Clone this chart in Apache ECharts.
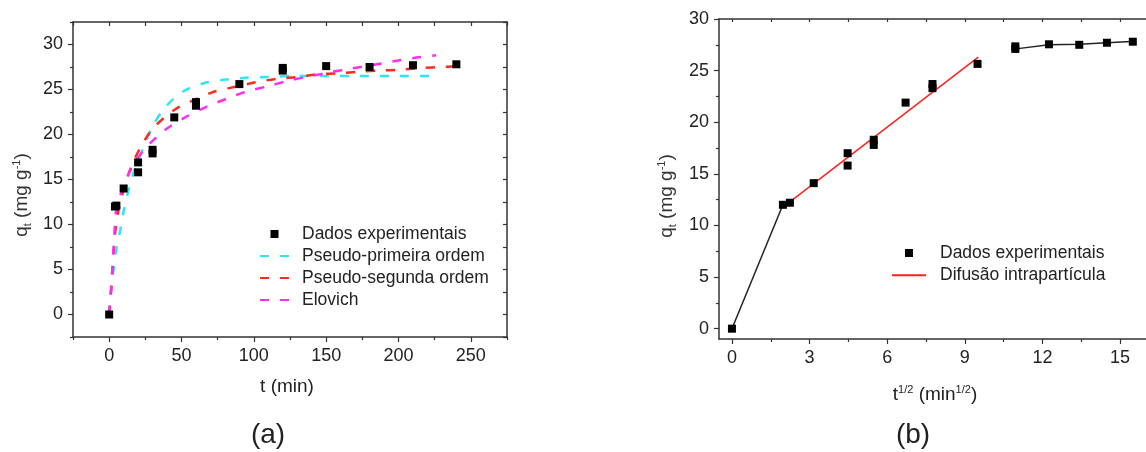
<!DOCTYPE html>
<html>
<head>
<meta charset="utf-8">
<script src="https://cdn.jsdelivr.net/npm/echarts@6/dist/echarts.min.js"></script>
<style>
html,body{margin:0;padding:0;background:#fff;}
#main{width:1146px;height:452px;}
</style>
</head>
<body>
<div id="main"></div>
<script>
// (a) kinetics: t (min) vs qt
var tExp = [0, 4, 5, 10, 20, 20, 30, 30, 45, 60, 60, 90, 120, 120, 150, 180, 210, 240];
var qExp = [0, 12.0, 12.1, 14.0, 16.9, 15.8, 18.3, 17.9, 21.9, 23.6, 23.2, 25.6, 27.4, 27.1, 27.6, 27.5, 27.7, 27.8];

var pfoT = [0, 1.4, 3, 4.9, 7.7, 10.2, 13.7, 18, 23.4, 29.3, 38.6, 51.3, 65.3, 80.4, 94.3, 109.5, 130, 166, 200, 226];
var pfoQ = [0, 2.9, 5.0, 7.2, 9.4, 11.6, 14.0, 16.3, 18.4, 20.7, 23.0, 24.8, 25.7, 26.1, 26.3, 26.4, 26.5, 26.5, 26.5, 26.5];

var psoT = [0, 1.4, 2.2, 3.2, 4.3, 6.5, 10.3, 15, 21.1, 30.4, 44.8, 59.5, 73.4, 87.4, 101.3, 116.5, 130.4, 144.3, 159.4, 173.4, 187.3, 201.3, 216.4, 230.3, 240];
var psoQ = [0, 3.0, 4.9, 7.2, 9.3, 11.6, 14.0, 16.3, 18.4, 20.7, 22.7, 23.9, 24.8, 25.3, 25.8, 26.2, 26.4, 26.7, 26.8, 27.0, 27.1, 27.2, 27.4, 27.5, 27.6];

var eloT = [0, 1.4, 2.1, 3.0, 3.7, 4.9, 9.3, 15.3, 24.6, 38.6, 52.5, 67.6, 81.6, 95.5, 110.6, 124.5, 139.7, 152.4, 166.4, 181.5, 195.5, 210.6, 226];
var eloQ = [0, 2.6, 4.9, 7.2, 9.3, 11.6, 14.0, 16.2, 18.4, 20.5, 21.9, 23.1, 24.0, 24.8, 25.4, 26.0, 26.5, 26.9, 27.3, 27.7, 28.1, 28.5, 28.8];

// (b) intraparticle diffusion: t^1/2 vs qt
var sqrtT = [0, 1.97, 2.24, 3.16, 4.47, 4.47, 5.48, 5.48, 6.71, 7.75, 7.75, 9.49, 10.95, 10.95, 12.25, 13.42, 14.49, 15.49];
var qB = [0, 12.0, 12.2, 14.1, 17.0, 15.8, 18.3, 17.8, 21.9, 23.7, 23.3, 25.65, 27.35, 27.1, 27.55, 27.5, 27.7, 27.8];
var difX = [2.25, 9.52];
var difQ = [12.3, 26.3];
var seg1X = [0, 1.97];
var seg1Q = [0, 12.0];
var seg2X = [11.05, 12.25, 13.42, 14.49, 15.6];
var seg2Q = [27.13, 27.5, 27.55, 27.7, 27.85];

// tick values
var xaMajor = [0, 50, 100, 150, 200, 250];
var xaMinor = [-25, 25, 75, 125, 175, 225, 275];
var yaMajor = [0, 5, 10, 15, 20, 25, 30];
var yaMinor = [-2.5, 2.5, 7.5, 12.5, 17.5, 22.5, 27.5, 32.5];
var xbMajor = [0, 3, 6, 9, 12, 15];
var xbMinor = [1.5, 4.5, 7.5, 10.5, 13.5];
var ybMajor = [0, 5, 10, 15, 20, 25, 30];
var ybMinor = [2.5, 7.5, 12.5, 17.5, 22.5, 27.5];

function zip(a, b){
	var out = [];
	for (var i = 0; i < a.length; i++) out.push([a[i], b[i]]);
	return out;
}

var FONT = 'Liberation Sans, Arial, sans-serif';
var axisCol = '#333';

function mkAxis(grid, pos, min, max, ticks, len, inside, labels, showLine){
	return {
		type:'value', gridIndex:grid, position:pos, min:min, max:max,
		axisLine:{show:showLine, onZero:false, lineStyle:{color:axisCol, width:1.5}},
		axisTick:{show:true, inside:inside, length:len, customValues:ticks, lineStyle:{color:axisCol, width:1.2}},
		axisLabel: labels ? {show:true, customValues:ticks, fontSize:18, color:'#222', fontFamily:FONT, margin:10} : {show:false},
		splitLine:{show:false}
	};
}

var allA = xaMajor.concat(xaMinor);
var allYa = yaMajor.concat(yaMinor);
var allB = xbMajor.concat(xbMinor);

var chart = echarts.init(document.getElementById('main'), null, {renderer:'canvas'});

var noSym = {opacity:0};
var legText = {fontSize:17.5, color:'#222', fontFamily:FONT, lineHeight:20};

var option = {
	backgroundColor:'#fff',
	animation:false,
	textStyle:{fontFamily:FONT},
	grid:[
		{left:73, top:22, width:434, height:315},
		{left:719, top:19, width:432, height:320}
	],
	xAxis:[
		mkAxis(0, 'bottom', -25, 275, xaMajor, 5, false, true, true),
		mkAxis(0, 'bottom', -25, 275, xaMinor, 3, false, false, false),
		mkAxis(0, 'top', -25, 275, allA, 4, true, false, true),
		mkAxis(1, 'bottom', -0.5, 16, xbMajor, 5, false, true, true),
		mkAxis(1, 'bottom', -0.5, 16, xbMinor, 3, false, false, false),
		mkAxis(1, 'top', -0.5, 16, allB, 3, true, false, true)
	],
	yAxis:[
		mkAxis(0, 'left', -2.5, 32.5, yaMajor, 5, false, true, true),
		mkAxis(0, 'left', -2.5, 32.5, yaMinor, 3, false, false, false),
		mkAxis(0, 'right', -2.5, 32.5, allYa, 4, true, false, true),
		mkAxis(1, 'left', -1, 30, ybMajor, 5, false, true, true),
		mkAxis(1, 'left', -1, 30, ybMinor, 3, false, false, false)
	],
	legend:[
		{
			orient:'vertical', left:259, top:224, padding:0,
			itemWidth:29, itemHeight:10, itemGap:2,
			textStyle:Object.assign({padding:[0,0,0,8]}, legText),
			data:[
				{name:'Dados experimentais'},
				{name:'Pseudo-primeira ordem', itemStyle:noSym},
				{name:'Pseudo-segunda ordem', itemStyle:noSym},
				{name:'Elovich', itemStyle:noSym}
			],
			selectedMode:false
		},
		{
			orient:'vertical', left:891, top:243, padding:0,
			itemWidth:34, itemHeight:10, itemGap:2.3,
			textStyle:Object.assign({padding:[0,0,0,9]}, legText),
			data:[
				{name:'Dados experimentais'},
				{name:'Difusão intrapartícula', itemStyle:noSym}
			],
			selectedMode:false
		}
	],
	series:[
		{
			name:'Pseudo-primeira ordem', type:'line', xAxisIndex:0, yAxisIndex:0,
			data:zip(pfoT, pfoQ), smooth:0.3, symbol:'none',
			lineStyle:{color:'#2ee6f2', width:2.5, type:[9, 11]}, itemStyle:{color:'#2ee6f2'}
		},
		{
			name:'Pseudo-segunda ordem', type:'line', xAxisIndex:0, yAxisIndex:0,
			data:zip(psoT, psoQ), smooth:0.3, symbol:'none',
			lineStyle:{color:'#ff2a1e', width:2.5, type:[9, 11]}, itemStyle:{color:'#ff2a1e'}
		},
		{
			name:'Elovich', type:'line', xAxisIndex:0, yAxisIndex:0,
			data:zip(eloT, eloQ), smooth:0.3, symbol:'none',
			lineStyle:{color:'#ff2cf2', width:2.5, type:[9, 11]}, itemStyle:{color:'#ff2cf2'}
		},
		{
			name:'Dados experimentais', type:'line', xAxisIndex:0, yAxisIndex:0,
			data:zip(tExp, qExp), symbol:'rect', symbolSize:8, showSymbol:true,
			lineStyle:{opacity:0}, itemStyle:{color:'#000'}, z:5
		},
		{
			name:'seg1', type:'line', xAxisIndex:3, yAxisIndex:3,
			data:zip(seg1X, seg1Q), symbol:'none',
			lineStyle:{color:'#222', width:1.5}
		},
		{
			name:'seg2', type:'line', xAxisIndex:3, yAxisIndex:3,
			data:zip(seg2X, seg2Q), symbol:'none',
			lineStyle:{color:'#222', width:1.5}
		},
		{
			name:'Difusão intrapartícula', type:'line', xAxisIndex:3, yAxisIndex:3,
			data:zip(difX, difQ), symbol:'none',
			lineStyle:{color:'#ff2020', width:1.5}, itemStyle:{color:'#ff2020'}
		},
		{
			name:'Dados experimentais', type:'line', xAxisIndex:3, yAxisIndex:3,
			data:zip(sqrtT, qB), symbol:'rect', symbolSize:8, showSymbol:true,
			lineStyle:{opacity:0}, itemStyle:{color:'#000'}, z:5
		}
	],
	graphic:[
		{
			type:'text', x:22, y:195, rotation:Math.PI/2,
			style:{
				text:'q{sub|t} (mg g{sup|-1})', fill:'#333', font:'19px ' + FONT,
				align:'center', verticalAlign:'middle',
				rich:{sub:{fontSize:11, verticalAlign:'bottom', lineHeight:22}, sup:{fontSize:11, verticalAlign:'top', lineHeight:22}}
			}
		},
		{
			type:'text', x:287, y:387,
			style:{text:'t (min)', fill:'#222', font:'19px ' + FONT, align:'center', verticalAlign:'middle'}
		},
		{
			type:'text', x:268, y:435,
			style:{text:'(a)', fill:'#222', font:'28px ' + FONT, align:'center', verticalAlign:'middle'}
		},
		{
			type:'text', x:667, y:196, rotation:Math.PI/2,
			style:{
				text:'q{sub|t} (mg g{sup|-1})', fill:'#333', font:'19px ' + FONT,
				align:'center', verticalAlign:'middle',
				rich:{sub:{fontSize:11, verticalAlign:'bottom', lineHeight:22}, sup:{fontSize:11, verticalAlign:'top', lineHeight:22}}
			}
		},
		{
			type:'text', x:935, y:395,
			style:{
				text:'t{sup|1/2} (min{sup|1/2})', fill:'#222', font:'19px ' + FONT,
				align:'center', verticalAlign:'middle',
				rich:{sup:{fontSize:11, verticalAlign:'top', lineHeight:22}}
			}
		},
		{
			type:'text', x:913, y:435,
			style:{text:'(b)', fill:'#222', font:'28px ' + FONT, align:'center', verticalAlign:'middle'}
		}
	]
};
chart.setOption(option);
</script>
</body>
</html>
